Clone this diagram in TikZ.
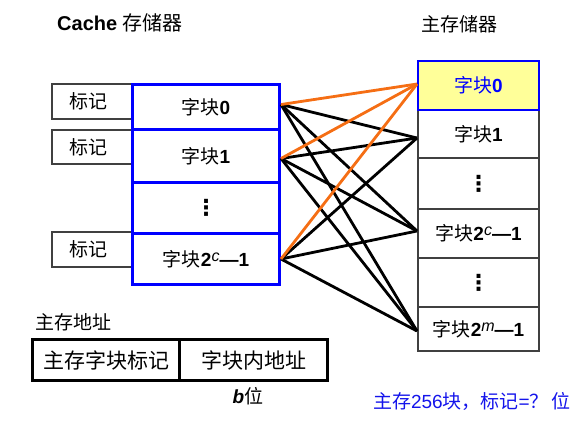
\documentclass[tikz,border=0pt]{standalone}
\usepackage{fontspec}
\setmainfont{Liberation Sans}
\newfontfamily\cjk{Noto Sans CJK SC}
\newfontfamily\dvs{DejaVu Sans}
\definecolor{orange1}{RGB}{245,110,20}
\definecolor{pale}{RGB}{255,255,153}
\definecolor{note}{RGB}{20,20,235}
\newcommand{\zk}{{\cjk 字块}}
\newcommand{\vd}{{\dvs\bfseries\fontsize{22}{24}\selectfont ⋮}}
\newcommand{\supit}[1]{\raisebox{5pt}{\fontsize{16}{16}\selectfont\normalfont\itshape #1}}
\begin{document}
\begin{tikzpicture}[x=1pt,y=-1pt,font=\fontsize{19}{22}\selectfont,
  cblk/.style={draw=blue,line width=3pt,minimum width=147pt,inner sep=0pt,anchor=north west},
  tagbox/.style={draw=black!75,line width=1.8pt,minimum width=80pt,inner sep=0pt,anchor=north west},
  mblk/.style={draw=black!75,line width=2pt,minimum width=121pt,inner sep=0pt,anchor=north west},
  abox/.style={draw=black,line width=3pt,minimum height=41pt,inner sep=0pt,anchor=north west,font=\fontsize{21}{24}\selectfont\cjk},
  link/.style={line width=2.8pt,black},
  hot/.style={line width=2.8pt,orange1}]
\useasboundingbox (0,0) rectangle (588,421);
% titles
\node (t1) at (120,23) {\fontsize{20}{22}\selectfont\textbf{Cache} {\cjk 存储器}};
\node (t2) at (459,24) {\cjk 主存储器};
% tag boxes
\node[tagbox,minimum height=35pt] (g0) at (51,83) {\hspace*{-6pt}\cjk 标记};
\node[tagbox,minimum height=34pt] (g1) at (51,129) {\hspace*{-6pt}\cjk 标记};
\node[tagbox,minimum height=35pt] (g3) at (51,231) {\hspace*{-6pt}\cjk 标记};
% cache blocks
\node[cblk,minimum height=45pt] (c0) at (131,83) {\zk\textbf{0}};
\node[cblk,minimum height=53pt] (c1) at (131,128) {\zk\textbf{1}};
\node[cblk,minimum height=51pt] (cd) at (131,181) {\vd};
\node[cblk,minimum height=51pt] (c3) at (131,232) {\zk\textbf{2\supit{c}—1}};
% main memory blocks
\node[mblk,minimum height=48pt] (m1) at (417,109) {\zk\textbf{1}};
\node[mblk,minimum height=51pt] (m2) at (417,157) {\vd};
\node[mblk,minimum height=49pt] (m3) at (417,208) {\zk\textbf{2\supit{c}—1}};
\node[mblk,minimum height=49pt] (m4) at (417,257) {\vd};
\node[mblk,minimum height=44pt] (m5) at (417,306) {\zk\textbf{2\supit{m}—1}};
\node[mblk,draw=blue,fill=pale,minimum height=49pt,text=blue] (m0) at (417,60) {\zk\textbf{0}};
% connection points
\coordinate (p0) at ([yshift=2.5pt]c0.east);
\coordinate (p1) at ([yshift=-2.5pt]c1.east);
\coordinate (p3) at (c3.east);
\coordinate (q0) at ([yshift=1.5pt]m0.west);
\coordinate (q1) at ([yshift=-4pt]m1.west);
\coordinate (q3) at ([yshift=2.5pt]m3.west);
\coordinate (q5) at ([yshift=-2pt]m5.west);
% links
\foreach \c in {p0,p1,p3}{
  \foreach \m in {q1,q3,q5}{
    \draw[link] (\c) -- (\m);
  }
}
\foreach \c in {p0,p1,p3}{
  \draw[hot] (\c) -- (q0);
}
% address
\node (al) at (73,322) {\cjk 主存地址};
\node[abox,minimum width=147pt] (a1) at (31,338) {主存字块标记};
\node[abox,minimum width=148pt] (a2) at (178,338) {字块内地址};
\node (bb) at (248,396) {\textbf{\textit{b}}{\cjk 位}};
\node[text=note] (nt) at (472,401) {{\cjk 主存}256{\cjk 块，标记}={\cjk ？}\,{\cjk 位}};
\end{tikzpicture}
\end{document}
